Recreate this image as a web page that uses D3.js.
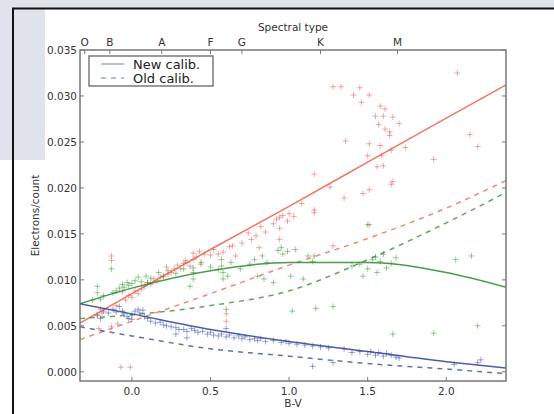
<!DOCTYPE html>
<html><head><meta charset="utf-8">
<script src="https://cdn.jsdelivr.net/npm/d3@7"></script>
<style>html,body{margin:0;padding:0;background:#fff;}svg{display:block;}</style>
</head><body>
<script>
// ---- data ----
const xTicks = [0.0, 0.5, 1.0, 1.5, 2.0];
const yTicks = [0.000, 0.005, 0.010, 0.015, 0.020, 0.025, 0.030, 0.035];
const spectralTypes = ["O", "B", "A", "F", "G", "K", "M"];
const spectralBV = [-0.30, -0.14, 0.19, 0.50, 0.70, 1.20, 1.69];
const fitX = [-0.33, 0.0, 0.5, 1.0, 1.5, 2.0, 2.38];
const redNew = [0.0053, 0.0085, 0.0133, 0.0180, 0.0228, 0.0276, 0.0312];
const redOld = [0.0035, 0.0055, 0.0085, 0.0116, 0.0145, 0.0178, 0.0208];
const greenNew = [0.0074, 0.0091, 0.0110, 0.0119, 0.0119, 0.0108, 0.0092];
const greenOld = [0.0058, 0.0062, 0.0072, 0.0088, 0.0122, 0.0162, 0.0195];
const blueNew = [0.0074, 0.0063, 0.0046, 0.0033, 0.0022, 0.0011, 0.0004];
const blueOld = [0.0049, 0.0039, 0.0025, 0.0017, 0.0009, 0.0003, -0.0002];
const redPts = [[-0.22,0.0061],[-0.21,0.0047],[-0.2,0.0068],[-0.19,0.0064],[-0.13,0.0126],[-0.13,0.0121],[-0.13,0.0049],[-0.1,0.0072],[-0.09,0.0052],[-0.07,0.0005],[-0.06,0.0087],[-0.04,0.0078],[-0.02,0.0083],[-0.01,0.0005],[0.0,0.0081],[0.02,0.0088],[0.04,0.0085],[0.06,0.009],[0.08,0.0093],[0.1,0.0097],[0.12,0.0095],[0.14,0.0101],[0.16,0.0099],[0.18,0.0103],[0.2,0.0104],[0.22,0.0114],[0.23,0.0106],[0.25,0.0108],[0.27,0.0112],[0.29,0.0116],[0.31,0.0112],[0.33,0.0118],[0.34,0.0121],[0.35,0.0119],[0.37,0.0115],[0.39,0.0122],[0.39,0.0129],[0.41,0.0125],[0.43,0.0131],[0.44,0.0117],[0.46,0.0128],[0.5,0.0127],[0.52,0.0133],[0.55,0.0128],[0.58,0.013],[0.6,0.0063],[0.6,0.0055],[0.62,0.0136],[0.64,0.0137],[0.66,0.0126],[0.7,0.014],[0.74,0.0151],[0.76,0.0144],[0.79,0.0148],[0.81,0.0135],[0.82,0.0158],[0.85,0.0152],[0.9,0.0161],[0.92,0.0166],[0.94,0.0168],[0.94,0.0156],[0.94,0.0144],[0.96,0.017],[0.99,0.0164],[1.0,0.0172],[1.03,0.0169],[1.08,0.0183],[1.16,0.0215],[1.16,0.0176],[1.16,0.0173],[1.26,0.0201],[1.28,0.031],[1.28,0.0137],[1.33,0.031],[1.35,0.0189],[1.36,0.0251],[1.41,0.0301],[1.45,0.0309],[1.46,0.0293],[1.47,0.0194],[1.5,0.0235],[1.51,0.0301],[1.51,0.0248],[1.51,0.0198],[1.51,0.016],[1.55,0.0278],[1.56,0.0223],[1.57,0.0269],[1.58,0.0289],[1.58,0.0246],[1.59,0.0235],[1.6,0.0278],[1.6,0.0224],[1.61,0.0264],[1.61,0.0286],[1.64,0.0257],[1.64,0.0261],[1.65,0.0241],[1.65,0.0204],[1.66,0.0277],[1.66,0.0207],[1.7,0.027],[1.74,0.0244],[1.92,0.0231],[2.07,0.0325],[2.15,0.0258],[2.2,0.0245]];
const greenPts = [[-0.25,0.0078],[-0.22,0.0093],[-0.22,0.0086],[-0.2,0.0079],[-0.18,0.0083],[-0.13,0.0112],[-0.12,0.0086],[-0.1,0.0088],[-0.08,0.0091],[-0.06,0.0095],[-0.05,0.0092],[-0.03,0.0097],[-0.02,0.0094],[0.0,0.0096],[0.02,0.0099],[0.04,0.0103],[0.06,0.0098],[0.09,0.0104],[0.1,0.0097],[0.12,0.0102],[0.17,0.0108],[0.2,0.0104],[0.23,0.011],[0.28,0.0107],[0.33,0.0112],[0.37,0.0093],[0.39,0.0101],[0.39,0.0108],[0.39,0.0113],[0.44,0.0119],[0.5,0.0114],[0.55,0.0111],[0.57,0.0115],[0.57,0.0122],[0.58,0.0108],[0.58,0.0101],[0.6,0.0068],[0.61,0.0104],[0.63,0.0119],[0.69,0.0112],[0.75,0.0117],[0.78,0.0122],[0.8,0.0104],[0.83,0.0126],[0.84,0.0101],[0.86,0.0119],[0.9,0.0097],[0.93,0.0132],[0.95,0.0135],[0.96,0.0128],[0.99,0.0131],[1.01,0.0104],[1.02,0.0066],[1.04,0.0133],[1.09,0.0101],[1.12,0.0126],[1.15,0.012],[1.16,0.0126],[1.17,0.0069],[1.28,0.0071],[1.4,0.0115],[1.45,0.0117],[1.47,0.0104],[1.5,0.0112],[1.5,0.016],[1.53,0.0122],[1.55,0.0125],[1.56,0.0108],[1.58,0.012],[1.6,0.0128],[1.62,0.0113],[1.65,0.0118],[1.66,0.0041],[1.68,0.0124],[1.92,0.0042],[2.06,0.0122],[2.16,0.0126],[2.2,0.005]];
const bluePts = [[-0.22,0.0062],[-0.2,0.0058],[-0.18,0.0066],[-0.15,0.0064],[-0.12,0.0068],[-0.1,0.0065],[-0.08,0.0071],[-0.06,0.0066],[-0.05,0.0063],[-0.03,0.006],[-0.02,0.0058],[0.0,0.0057],[0.0,0.0062],[0.02,0.0066],[0.04,0.0068],[0.05,0.0064],[0.07,0.0067],[0.08,0.006],[0.1,0.0058],[0.12,0.0055],[0.15,0.0053],[0.18,0.0054],[0.2,0.0051],[0.22,0.005],[0.25,0.0049],[0.28,0.0048],[0.28,0.0041],[0.3,0.0046],[0.33,0.0046],[0.35,0.0044],[0.35,0.0037],[0.38,0.0047],[0.4,0.0045],[0.42,0.0043],[0.45,0.0044],[0.48,0.0041],[0.5,0.0043],[0.52,0.004],[0.55,0.0039],[0.57,0.0041],[0.6,0.0038],[0.6,0.0047],[0.62,0.004],[0.65,0.0037],[0.68,0.0039],[0.7,0.0036],[0.72,0.0038],[0.75,0.0035],[0.78,0.0036],[0.8,0.0034],[0.82,0.0036],[0.85,0.0033],[0.9,0.0034],[0.95,0.0032],[0.98,0.0033],[1.0,0.0031],[1.05,0.003],[1.1,0.0029],[1.15,0.0028],[1.15,0.0006],[1.2,0.0027],[1.25,0.0026],[1.28,0.001],[1.35,0.0025],[1.4,0.0021],[1.45,0.0022],[1.5,0.0019],[1.52,0.0022],[1.55,0.0018],[1.57,0.0021],[1.6,0.0017],[1.62,0.002],[1.65,0.0018],[1.68,0.0016],[1.7,0.0015],[2.05,0.0008],[2.2,0.001],[2.22,0.0013]];
const legendLabels = ["New calib.", "Old calib."];

// ---- drawing ----
const W = 554, H = 414;
const svg = d3.select("body").append("svg").attr("width", W).attr("height", H);
svg.append("rect").attr("width", W).attr("height", H).attr("fill", "#fff");
svg.append("rect").attr("x", 0).attr("y", 0).attr("width", W).attr("height", 8).attr("fill", "#dfe4ec");
svg.append("rect").attr("x", 0).attr("y", 0).attr("width", 45).attr("height", 160).attr("fill", "#dfe4ec");
svg.append("line").attr("x1", 12).attr("x2", W).attr("y1", 8.5).attr("y2", 8.5).attr("stroke", "#111").attr("stroke-width", 2);
svg.append("line").attr("x1", 13).attr("x2", 13).attr("y1", 8).attr("y2", H).attr("stroke", "#111").attr("stroke-width", 2);

const L = 80, R = 506, T = 50, B = 381;
const x = d3.scaleLinear().domain([-0.33, 2.38]).range([L, R]);
const y = d3.scaleLinear().domain([-0.001, 0.035]).range([B, T]);

const plot = svg.append("g");
svg.append("clipPath").attr("id", "c").append("rect").attr("x", L).attr("y", T).attr("width", R - L).attr("height", B - T);
const inner = plot.append("g").attr("clip-path", "url(#c)");

const fontFam = "'DejaVu Sans', sans-serif";
const series = [
  {pts: redPts, col: "#e0463c", newV: redNew, oldV: redOld, lc: "#e8604c"},
  {pts: greenPts, col: "#1e8c1e", newV: greenNew, oldV: greenOld, lc: "#2a8a2a"},
  {pts: bluePts, col: "#233f9c", newV: blueNew, oldV: blueOld, lc: "#2c4196"}
];
const plus = (d) => `M${x(d[0]) - 3},${y(d[1])}h6M${x(d[0])},${y(d[1]) - 3}v6`;
series.forEach(s => {
  inner.append("path").attr("d", s.pts.map(plus).join(""))
    .attr("stroke", s.col).attr("stroke-width", 1).attr("fill", "none").attr("opacity", 0.45);
});
const line = d3.line().curve(d3.curveMonotoneX);
series.forEach(s => {
  inner.append("path").attr("d", line(fitX.map((v, i) => [x(v), y(s.oldV[i])])))
    .attr("stroke", s.lc).attr("stroke-width", 1.5).attr("fill", "none")
    .attr("stroke-dasharray", "5,5").attr("opacity", 0.75);
  inner.append("path").attr("d", line(fitX.map((v, i) => [x(v), y(s.newV[i])])))
    .attr("stroke", s.lc).attr("stroke-width", 1.5).attr("fill", "none").attr("opacity", 0.85);
});

// axes frame
const axCol = "#777";
plot.append("rect").attr("x", L).attr("y", T).attr("width", R - L).attr("height", B - T)
  .attr("fill", "none").attr("stroke", axCol).attr("stroke-width", 1.5);

const txt = (g) => g.attr("font-family", fontFam).attr("fill", "#333");
yTicks.forEach(v => {
  plot.append("line").attr("x1", L).attr("x2", L + 4).attr("y1", y(v)).attr("y2", y(v)).attr("stroke", axCol);
  plot.append("line").attr("x1", R).attr("x2", R - 4).attr("y1", y(v)).attr("y2", y(v)).attr("stroke", axCol);
  txt(plot.append("text")).attr("x", L - 3).attr("y", y(v) + 4).attr("text-anchor", "end")
    .attr("font-size", 10.5).text(d3.format(".3f")(v));
});
xTicks.forEach(v => {
  plot.append("line").attr("x1", x(v)).attr("x2", x(v)).attr("y1", B).attr("y2", B - 4).attr("stroke", axCol);
  txt(plot.append("text")).attr("x", x(v)).attr("y", B + 14).attr("text-anchor", "middle")
    .attr("font-size", 10.5).text(d3.format(".1f")(v));
});
spectralTypes.forEach((t, i) => {
  const xv = x(spectralBV[i]);
  plot.append("line").attr("x1", xv).attr("x2", xv).attr("y1", T).attr("y2", T + 4).attr("stroke", axCol);
  txt(plot.append("text")).attr("x", xv).attr("y", T - 4).attr("text-anchor", "middle")
    .attr("font-size", 10.5).text(t);
});
txt(plot.append("text")).attr("x", (L + R) / 2).attr("y", 31).attr("text-anchor", "middle")
  .attr("font-size", 10.5).text("Spectral type");
txt(plot.append("text")).attr("x", (L + R) / 2).attr("y", 407).attr("text-anchor", "middle")
  .attr("font-size", 10.5).text("B-V");
txt(plot.append("text")).attr("transform", `translate(39,${(T + B) / 2}) rotate(-90)`)
  .attr("text-anchor", "middle").attr("font-size", 10.5).text("Electrons/count");

const lg = plot.append("g");
lg.append("rect").attr("x", 89).attr("y", 56).attr("width", 124).attr("height", 30)
  .attr("fill", "#fff").attr("stroke", "#666").attr("stroke-width", 1.3);
legendLabels.forEach((lab, i) => {
  const yy = 64 + i * 14;
  lg.append("line").attr("x1", 101).attr("x2", 124).attr("y1", yy).attr("y2", yy)
    .attr("stroke", "#9aa8d8").attr("stroke-width", 1.5)
    .attr("stroke-dasharray", i === 1 ? "5,5" : null);
  txt(lg.append("text")).attr("x", 133).attr("y", yy + 4.5).attr("font-size", 13).attr("fill", "#222").text(lab);
});
</script>
</body></html>
